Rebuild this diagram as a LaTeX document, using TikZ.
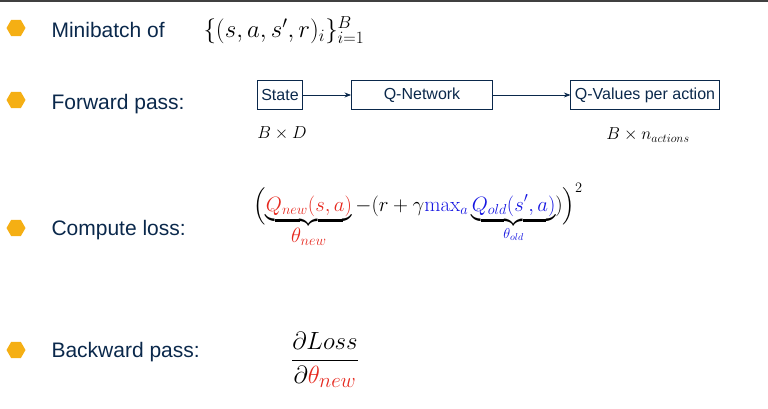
\documentclass[tikz,border=0pt]{standalone}
\usepackage{fontspec}
\usepackage{amsmath}
\setsansfont{Liberation Sans}
\usetikzlibrary{arrows.meta,positioning,shapes.geometric}
\definecolor{navy}{RGB}{10,40,75}
\definecolor{bulletorange}{RGB}{245,175,20}
\definecolor{lossred}{RGB}{230,40,30}
\definecolor{lossblue}{RGB}{20,20,225}
\newcommand{\mathr}[1]{\textcolor{lossred}{#1}}
\newcommand{\mathb}[1]{\textcolor{lossblue}{#1}}

\begin{document}
\begin{tikzpicture}[x=1pt, y=-1pt, >=Stealth,
    bullet/.style={regular polygon, regular polygon sides=6, fill=bulletorange,
        minimum size=19pt, inner sep=0pt},
    label/.style={anchor=west, text=navy, font=\sffamily\fontsize{21}{24}\selectfont},
    netbox/.style={draw=navy, thick, font=\sffamily\fontsize{16}{18}\selectfont,
        text=navy, minimum height=29pt, inner sep=4pt},
    flow/.style={->, navy, thick}]
    \useasboundingbox (0,0) rectangle (768,409);
    \fill [black!75] (0,0) rectangle (768,2);

    % Bullets and labels
    \node [bullet] (b1) at (16,28)  {};
    \node [bullet] (b2) at (16,100) {};
    \node [bullet] (b3) at (16,228) {};
    \node [bullet] (b4) at (16,350) {};
    \node [label]  (l1) at (48,30)  {Minibatch of};
    \node [label]  (l2) at (48,104) {Forward pass:};
    \node [label]  (l3) at (48,230) {Compute loss:};
    \node [label]  (l4) at (48,352) {Backward pass:};

    % Minibatch
    \node [anchor=west, font=\fontsize{26}{30}\selectfont] (mb) at (200,30)
        {$\{(s,a,s',r)_i\}_{i=1}^{B}$};

    % Forward pass
    \node [netbox] (state) at (280,95) {State};
    \node [netbox, minimum width=141pt] (qnet) at (422,95) {Q-Network};
    \node [netbox] (qval) at (645,95) {Q-Values per action};
    \draw [flow] (state) -- (qnet);
    \draw [flow] (qnet) -- (qval);
    \node [font=\fontsize{17}{20}\selectfont] (dimin) at (282,133) {$B\times D$};
    \node [font=\fontsize{17}{20}\selectfont] (dimout) at (648,135) {$B\times n_{actions}$};

    % Loss
    \node [anchor=north west, font=\fontsize{21}{25}\selectfont] (loss) at (250,180)
        {$\Bigl(\underbrace{\mathr{Q_{new}(s,a)}}_{\textstyle\mathr{\theta_{new}}}
          - (r+\gamma\mathb{\max_a} \underbrace{\mathb{Q_{old}(s',a)}}_{\text{\Large$\mathb{\theta_{old}}$}})\Bigr)^2$};

    % Backward pass
    \node [font=\fontsize{28}{32}\selectfont] (grad) at (325,360)
        {$\dfrac{\partial Loss}{\partial\mathr{\theta_{new}}}$};
\end{tikzpicture}
\end{document}
